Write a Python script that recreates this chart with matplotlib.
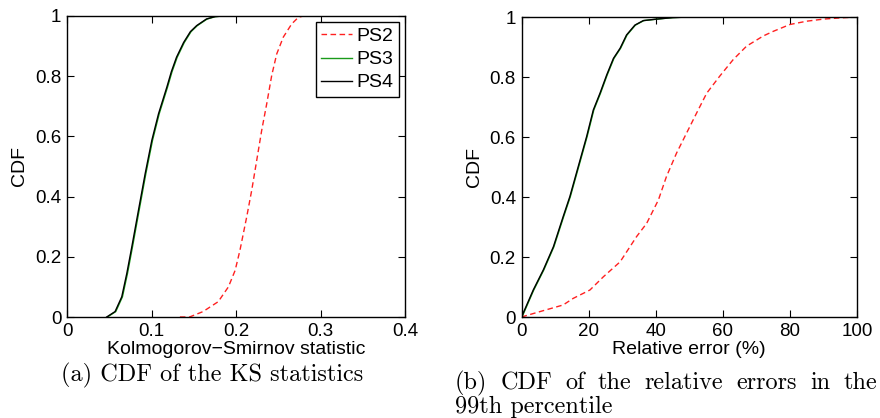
import matplotlib
matplotlib.use("Agg")
import matplotlib.pyplot as plt
import numpy as np

# Panel (a): KS statistics CDF
ks_ps34_x = [0.047, 0.0569, 0.0648, 0.0708, 0.0767, 0.0846, 0.0925, 0.1004, 0.1083, 0.1182, 0.1235, 0.1296, 0.1380, 0.1460, 0.1534, 0.1650, 0.1750, 0.1850]
ks_ps34_y = [0.0, 0.018, 0.067, 0.145, 0.233, 0.355, 0.476, 0.587, 0.675, 0.764, 0.815, 0.863, 0.912, 0.948, 0.968, 0.990, 0.998, 1.0]
ks_ps3_dx = 0.0008
ks_ps2_x = [0.1336, 0.145, 0.161, 0.179, 0.191, 0.199, 0.2047, 0.2127, 0.2186, 0.2245, 0.2304, 0.2364, 0.2423, 0.2482, 0.256, 0.266, 0.274, 0.280]
ks_ps2_y = [0.0, 0.0, 0.018, 0.051, 0.1, 0.155, 0.222, 0.333, 0.421, 0.52, 0.62, 0.709, 0.803, 0.874, 0.93, 0.974, 0.996, 1.0]

# Panel (b): relative error CDF
re_ps34_x = [0, 3.5, 6.5, 9.5, 12.4, 14.4, 16.9, 19.4, 21.4, 23.4, 25.4, 27.4, 29.4, 31.3, 33.8, 36.3, 40.3, 45, 50, 100]
re_ps34_y = [0, 0.09, 0.157, 0.234, 0.334, 0.401, 0.501, 0.601, 0.69, 0.746, 0.807, 0.862, 0.896, 0.94, 0.973, 0.988, 0.993, 0.998, 1.0, 1.0]
re_ps2_x = [0, 5.5, 12.4, 15.4, 20.4, 24.4, 29.4, 34.3, 37.3, 40.8, 43.2, 46.2, 49.2, 52.2, 55.2, 59.1, 63.1, 67.1, 72.1, 75, 80, 85, 90, 95, 100]
re_ps2_y = [0, 0.018, 0.04, 0.062, 0.09, 0.134, 0.184, 0.268, 0.312, 0.39, 0.468, 0.546, 0.613, 0.68, 0.746, 0.803, 0.858, 0.903, 0.937, 0.952, 0.975, 0.986, 0.993, 0.997, 1.0]

labels = ["PS2", "PS3", "PS4"]
ks_xticks = [0, 0.1, 0.2, 0.3, 0.4]
ks_xticklabels = ["0", "0.1", "0.2", "0.3", "0.4"]
re_xticks = [0, 20, 40, 60, 80, 100]
yticks = [0, 0.2, 0.4, 0.6, 0.8, 1]
yticklabels = ["0", "0.2", "0.4", "0.6", "0.8", "1"]
caption_a = "(a) CDF of the KS statistics"
caption_b1 = "(b) CDF of the relative errors in the"
caption_b2 = "99th percentile"

RED = "#ff2020"
GREEN = "#1a9a1a"
sans = ["Liberation Sans", "DejaVu Sans"]
plt.rcParams["font.family"] = sans

fig = plt.figure(figsize=(8.8, 4.18), dpi=100)
ax1 = fig.add_axes([67/880, 1-317/418, 338/880, 301/418])
ax2 = fig.add_axes([521.5/880, 1-317/418, 335.5/880, 300/418])

TICK_FS = 13.5
LAB_FS = 14

def style(ax):
    ax.set_ylim(0, 1)
    ax.set_yticks(yticks)
    ax.set_yticklabels(yticklabels)
    ax.tick_params(direction="in", top=True, right=True, length=5, width=0.8,
                   labelsize=TICK_FS, pad=4)
    for s in ax.spines.values():
        s.set_linewidth(1.0)
    ax.set_ylabel("CDF", fontsize=LAB_FS, labelpad=5)

# (a)
ax1.plot(ks_ps2_x, ks_ps2_y, "--", color=RED, lw=1.0, dashes=(4, 2.5), label=labels[0])
ax1.plot(np.array(ks_ps34_x) + ks_ps3_dx, ks_ps34_y, "-", color=GREEN, lw=1.0, label=labels[1])
ax1.plot(ks_ps34_x, ks_ps34_y, "-", color="black", lw=1.0, label=labels[2])
ax1.set_xlim(0, 0.4)
ax1.set_xticks(ks_xticks)
ax1.set_xticklabels(ks_xticklabels)
style(ax1)
ax1.set_xlabel("Kolmogorov\u2212Smirnov statistic", fontsize=LAB_FS, labelpad=1)
leg = ax1.legend(loc="upper right", fontsize=14, frameon=True, fancybox=False,
                 edgecolor="black", framealpha=1, handlelength=1.6, handletextpad=0.2,
                 borderpad=0.3, labelspacing=0.28, borderaxespad=0.3)
leg.get_frame().set_linewidth(1.0)

# (b)
ax2.plot(re_ps2_x, re_ps2_y, "--", color=RED, lw=1.0, dashes=(4, 2.5))
ax2.plot(np.array(re_ps34_x) + 0.15, re_ps34_y, "-", color=GREEN, lw=1.0)
ax2.plot(re_ps34_x, re_ps34_y, "-", color="black", lw=1.0)
ax2.set_xlim(0, 100)
ax2.set_xticks(re_xticks)
style(ax2)
ax2.set_xlabel("Relative error (%)", fontsize=LAB_FS, labelpad=1)

# captions
serif = ["cmr10", "DejaVu Serif"]
CAP_FS = 17.5
fig.text(212/880, 1-375/418, caption_a, family=serif,
         fontsize=CAP_FS, ha="center", va="center")

# justified first line of caption (b)
renderer = fig.canvas.get_renderer()
words = caption_b1.split(" ")
x0, x1 = 455.0, 877.0
texts = []
widths = []
for w in words:
    t = fig.text(0, 1-383/418, w, family=serif, fontsize=CAP_FS, ha="left", va="center")
    widths.append(t.get_window_extent(renderer).width)
    texts.append(t)
gap = (x1 - x0 - sum(widths)) / (len(words) - 1)
xpos = x0
for t, wd in zip(texts, widths):
    t.set_x(xpos / 880)
    xpos += wd + gap
fig.text(455/880, 1-407/418, caption_b2, family=serif,
         fontsize=CAP_FS, ha="left", va="center")

fig.savefig("out.png", dpi=100)
